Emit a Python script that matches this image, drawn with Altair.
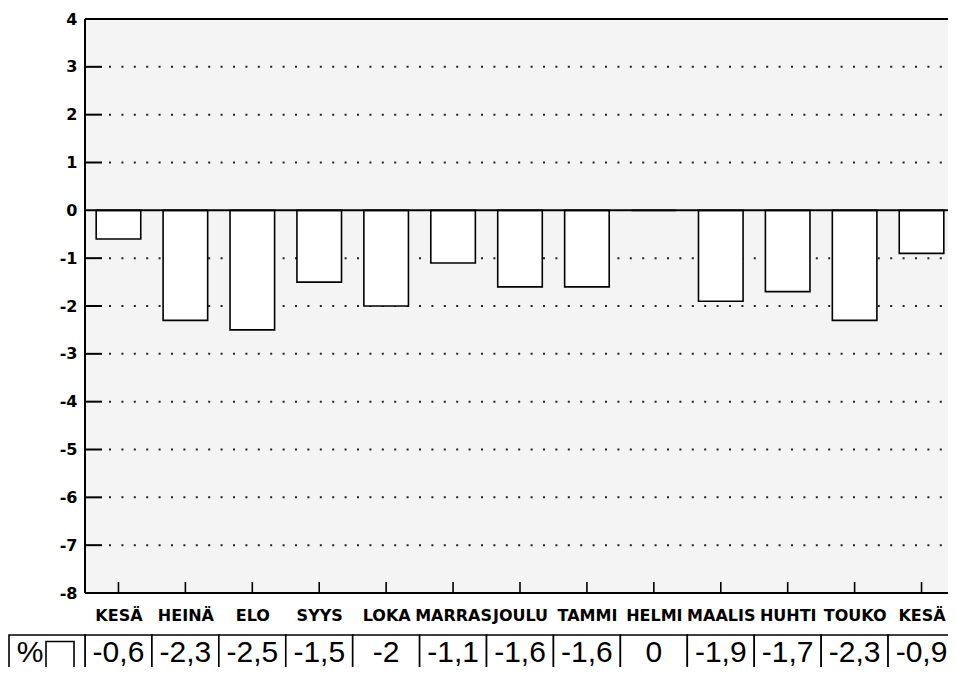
import json
import altair as alt
import pandas as pd

# ---- data ----
months = ["KESÄ", "HEINÄ", "ELO", "SYYS", "LOKA", "MARRAS", "JOULU",
          "TAMMI", "HELMI", "MAALIS", "HUHTI", "TOUKO", "KESÄ"]
values = [-0.6, -2.3, -2.5, -1.5, -2, -1.1, -1.6, -1.6, 0, -1.9, -1.7, -2.3, -0.9]
y_tick_values = list(range(-8, 5))
grid_values = [-7, -6, -5, -4, -3, -2, -1, 1, 2, 3]
frame_values = [4, 0, -8]

table_labels = [f"{v:g}".replace(".", ",") for v in values]

df = pd.DataFrame({
    "i": list(range(len(months))),
    "month": months,
    "value": values,
    "label": table_labels,
})

# ---- layout ----
W = 863          # visible plot width
FULL = 870       # scale range (plot continues past the page edge)
H = 574

x_scale = alt.Scale(domain=[-0.5, len(months) - 0.5], range=[0, FULL], nice=False, zero=False)
y_scale = alt.Scale(domain=[-8, 4], nice=False, zero=False)

label_expr = json.dumps(months, ensure_ascii=False) + "[datum.value]"

x_axis = alt.Axis(values=list(range(len(months))), labelExpr=label_expr, ticks=False,
                  domain=False, grid=False, labelFont="DejaVu Sans", labelFontWeight="bold",
                  labelFontSize=16, labelColor="black", labelPadding=14, title=None,
                  labelFlush=False, labelOverlap=False, labelBaseline="top")
y_axis = alt.Axis(values=y_tick_values, labelExpr="datum.value + ''", ticks=False,
                  domain=False, grid=False, labelFont="DejaVu Sans", labelFontWeight="bold",
                  labelFontSize=16, labelColor="black", labelPadding=8, title=None,
                  labelFlush=False, labelOverlap=False)


def X(field):
    return alt.X(field, scale=x_scale, axis=x_axis)


def Y(field):
    return alt.Y(field, scale=y_scale, axis=y_axis)


# dotted gridlines
grid = alt.Chart(pd.DataFrame({"v": grid_values})).mark_rule(
    strokeDash=[2, 10.4], strokeWidth=2, color="#222"
).encode(y=Y("v:Q"), x=alt.value(24), x2=alt.value(FULL))

# inward y ticks
yticks = alt.Chart(pd.DataFrame({"v": grid_values})).mark_rule(
    strokeWidth=2, color="black"
).encode(y=Y("v:Q"), x=alt.value(0), x2=alt.value(17))

# bars
bars = alt.Chart(df).transform_calculate(
    x0="datum.i - 0.333", x1="datum.i + 0.333"
).mark_rect(fill="white", stroke="black", strokeWidth=1.6).encode(
    x=X("x0:Q"), x2="x1:Q", y=Y("value:Q"), y2=alt.datum(0),
)

# frame lines (top, zero, bottom)
frame_h = alt.Chart(pd.DataFrame({"v": frame_values})).mark_rule(
    strokeWidth=2, color="black"
).encode(y=Y("v:Q"), x=alt.value(0), x2=alt.value(FULL))
frame_left = alt.Chart(pd.DataFrame({"v": [0]})).mark_rule(
    strokeWidth=2, color="black"
).encode(x=alt.value(0), y=alt.value(0), y2=alt.value(H))

# upward x ticks
xticks = alt.Chart(df).mark_rule(strokeWidth=1.6, color="black").encode(
    x=X("i:Q"), y=alt.value(H), y2=alt.value(H - 11),
)

# value table below the chart
TABLE_TOP = 616
TEXT_Y = 643
cells = alt.Chart(df).transform_calculate(
    c0="datum.i - 0.5", c1="datum.i + 0.5"
).mark_rect(fill="white", stroke="black", strokeWidth=1.6).encode(
    x=X("c0:Q"), x2="c1:Q", y=alt.value(TABLE_TOP), y2=alt.value(720),
)
cell_text = alt.Chart(df).mark_text(
    fontSize=30, font="Liberation Sans", baseline="alphabetic", align="center", color="black"
).encode(x=X("i:Q"), y=alt.value(TEXT_Y), text="label:N")

pct = pd.DataFrame({"t": ["%"]})
pct_cell = alt.Chart(pct).mark_rect(fill="white", stroke="black", strokeWidth=1.6).encode(
    x=alt.value(-76), x2=alt.value(0), y=alt.value(TABLE_TOP), y2=alt.value(720)
)
pct_box = alt.Chart(pct).mark_rect(fill="white", stroke="black", strokeWidth=1.6).encode(
    x=alt.value(-39), x2=alt.value(-11), y=alt.value(TABLE_TOP + 6.5), y2=alt.value(720)
)
pct_text = alt.Chart(pct).mark_text(
    fontSize=30, font="Liberation Sans", baseline="alphabetic", align="center", color="black"
).encode(x=alt.value(-55), y=alt.value(TEXT_Y), text="t:N")

chart = alt.layer(
    grid, yticks, bars, frame_h, frame_left, xticks,
    cells, cell_text, pct_cell, pct_box, pct_text
).properties(
    width=W, height=H,
    autosize=alt.AutoSizeParams(type="none"),
    padding={"left": 77, "top": 11, "right": 0, "bottom": 74},
    background="white",
).configure_view(fill="#f4f4f4", stroke=None)

chart.save("out.html", embed_options={"renderer": "svg", "actions": False})
